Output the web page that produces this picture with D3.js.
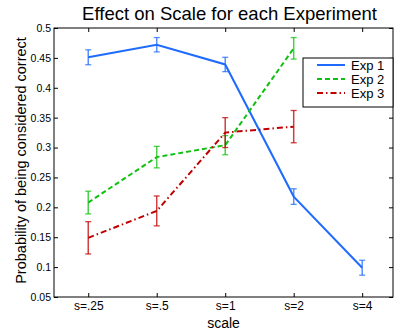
<!DOCTYPE html>
<html><head><meta charset="utf-8">
<script src="https://cdn.jsdelivr.net/npm/d3@7"></script>
<style>
body{margin:0;background:#fff;}
svg{display:block;font-family:"Liberation Sans",Arial,sans-serif;}
</style></head>
<body><svg id="c" width="395" height="332"></svg>
<script>
const categories = ["s=.25","s=.5","s=1","s=2","s=4"];
const exp1 = [0.451, 0.472, 0.439, 0.218, 0.099];
const exp1Err = [0.0125, 0.012, 0.012, 0.013, 0.0125];
const exp2 = [0.208, 0.284, 0.304, 0.466];
const exp2Err = [0.019, 0.018, 0.016, 0.018];
const exp3 = [0.149, 0.194, 0.325, 0.335];
const exp3Err = [0.027, 0.025, 0.025, 0.027];
const yTicks = [0.05,0.1,0.15,0.2,0.25,0.3,0.35,0.4,0.45,0.5];
const seriesNames = ["Exp 1","Exp 2","Exp 3"];

const svg = d3.select("#c");
const L=54, R=393, T=28, B=297;
const x = d3.scaleLinear().domain([0.5,5.45]).range([L,R]);
const y = d3.scaleLinear().domain([0.05,0.5]).range([B,T]);

const series = [
  {name:seriesNames[0], vals:exp1, err:exp1Err, color:"#1f6bff", dash:null},
  {name:seriesNames[1], vals:exp2, err:exp2Err, color:"#10c010", dash:"5,3"},
  {name:seriesNames[2], vals:exp3, err:exp3Err, color:"#c00000", dash:"6,3,1.5,3"}
];

svg.append("rect").attr("x",L).attr("y",T).attr("width",R-L).attr("height",B-T)
  .attr("fill","none").attr("stroke","#000").attr("stroke-width",1);

const xa = d3.axisBottom(x).tickValues([1,2,3,4,5]).tickFormat((d,i)=>categories[i]).tickSizeInner(-4).tickSizeOuter(0);
const gx = svg.append("g").attr("transform",`translate(0,${B})`).call(xa);
gx.select(".domain").remove();
gx.selectAll("text").attr("dy","0.82em").attr("font-size","12px").attr("fill","#000");
const xt = d3.axisTop(x).tickValues([1,2,3,4,5]).tickFormat("").tickSizeInner(-4).tickSizeOuter(0);
const gxt = svg.append("g").attr("transform",`translate(0,${T})`).call(xt);
gxt.select(".domain").remove();

const ya = d3.axisLeft(y).tickValues(yTicks).tickFormat(d=>String(+d.toFixed(2))).tickSizeInner(-4).tickSizeOuter(0).tickPadding(3);
const gy = svg.append("g").attr("transform",`translate(${L},0)`).call(ya);
gy.select(".domain").remove();
gy.selectAll("text").attr("font-size","10.5px").attr("fill","#000").attr("x",-3);
const yr = d3.axisRight(y).tickValues(yTicks).tickFormat("").tickSizeInner(-4).tickSizeOuter(0);
const gyr = svg.append("g").attr("transform",`translate(${R},0)`).call(yr);
gyr.select(".domain").remove();

const line = d3.line().x((d,i)=>x(i+1)).y(d=>y(d));
series.forEach(s=>{
  const g = svg.append("g");
  s.vals.forEach((v,i)=>{
    const cx = x(i+1), y0 = y(v - s.err[i]), y1 = y(v + s.err[i]);
    g.append("line").attr("x1",cx).attr("x2",cx).attr("y1",y0).attr("y2",y1)
      .attr("stroke",s.color).attr("stroke-width",1.5).attr("opacity",0.75);
    [y0,y1].forEach(yy=>g.append("line").attr("x1",cx-3).attr("x2",cx+3).attr("y1",yy).attr("y2",yy)
      .attr("stroke",s.color).attr("stroke-width",1.3).attr("opacity",0.75));
  });
  g.append("path").datum(s.vals).attr("d",line).attr("fill","none")
    .attr("stroke",s.color).attr("stroke-width",2).attr("stroke-dasharray",s.dash);
});

const lg = svg.append("g");
lg.append("rect").attr("x",303).attr("y",58).attr("width",90).attr("height",49)
  .attr("fill","#fff").attr("stroke","#000").attr("stroke-width",1);
series.forEach((s,i)=>{
  const yy = 65 + i*14;
  lg.append("line").attr("x1",317).attr("x2",345).attr("y1",yy).attr("y2",yy)
    .attr("stroke",s.color).attr("stroke-width",2).attr("stroke-dasharray",s.dash);
  lg.append("text").attr("x",351).attr("y",yy+4.5).attr("font-size","13px").text(s.name);
});

svg.append("text").attr("x",(L+R)/2+6).attr("y",20).attr("text-anchor","middle")
  .attr("font-size","18.5px").text("Effect on Scale for each Experiment");
svg.append("text").attr("x",(L+R)/2).attr("y",327.5).attr("text-anchor","middle")
  .attr("font-size","14px").text("scale");
svg.append("text").attr("transform",`translate(26,${(T+B)/2-2}) rotate(-90)`).attr("text-anchor","middle")
  .attr("font-size","14.5px").text("Probability of being considered correct");
</script></body></html>
